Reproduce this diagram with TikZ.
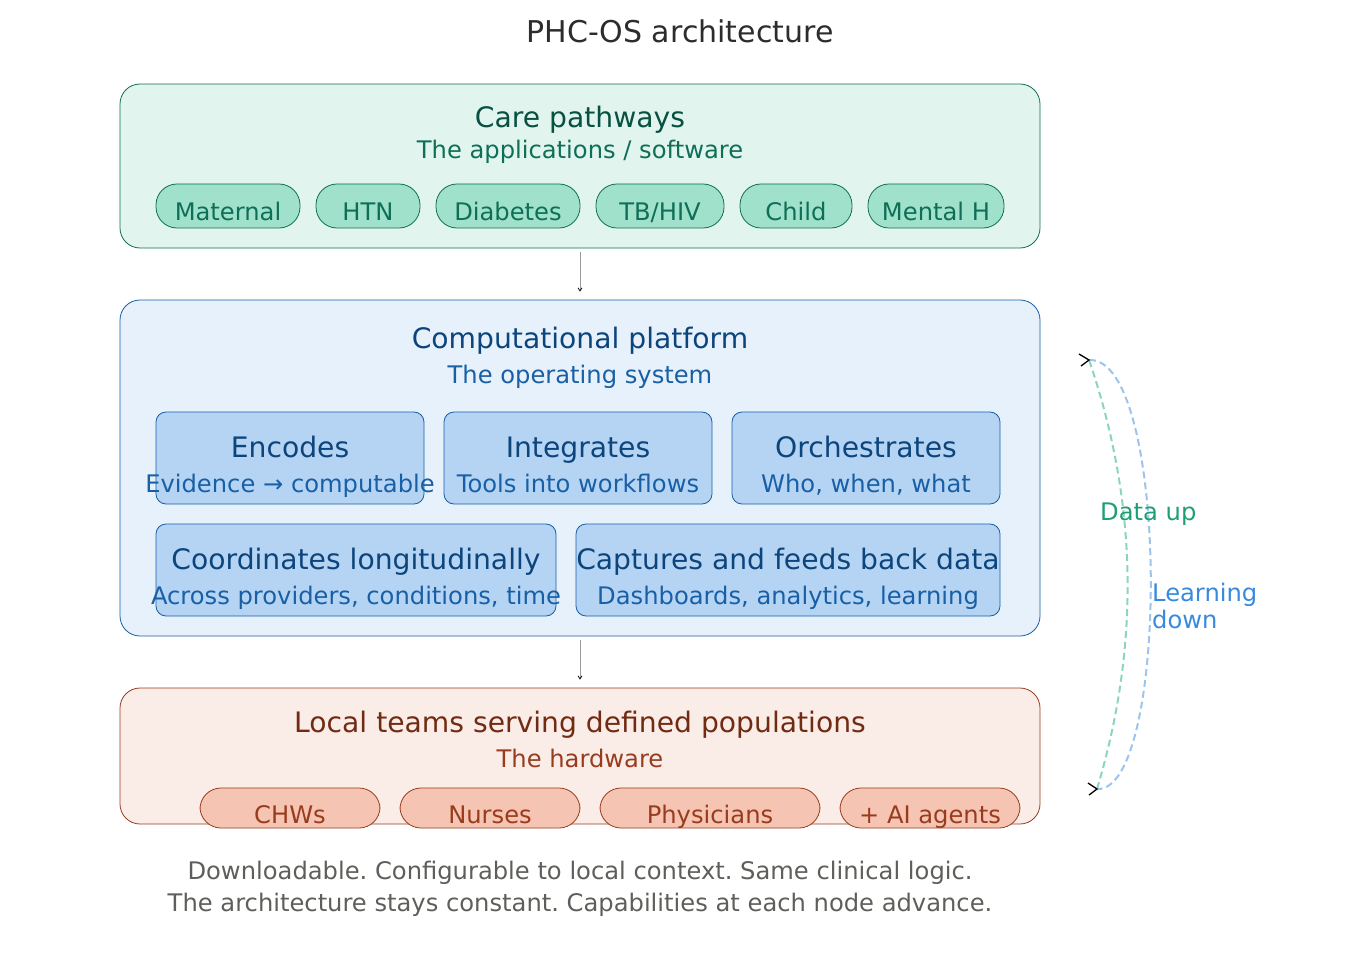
\documentclass[tikz,border=0pt]{standalone}
\usepackage{fontspec}
\setmainfont{DejaVu Sans}
\usetikzlibrary{positioning,arrows.meta}

\definecolor{tealL}{HTML}{E1F5EE}
\definecolor{tealM}{HTML}{9FE1CB}
\definecolor{tealB}{HTML}{0F6E56}
\definecolor{tealD}{HTML}{085041}
\definecolor{tealA}{HTML}{1D9E75}
\definecolor{tealDash}{HTML}{8DD5B8}
\definecolor{blueL}{HTML}{E6F1FB}
\definecolor{blueM}{HTML}{B5D4F4}
\definecolor{blueB}{HTML}{185FA5}
\definecolor{blueD}{HTML}{0C447C}
\definecolor{blueA}{HTML}{378ADD}
\definecolor{blueDash}{HTML}{9CC4EC}
\definecolor{coralL}{HTML}{FAECE7}
\definecolor{coralM}{HTML}{F5C4B3}
\definecolor{coralB}{HTML}{993C1D}
\definecolor{coralD}{HTML}{712B13}
\definecolor{inkT}{HTML}{2C2C2A}
\definecolor{inkF}{HTML}{5F5E5A}

\newcommand{\hdsize}{\fontsize{28.2}{32}\selectfont}
\newcommand{\txsize}{\fontsize{24.2}{28}\selectfont}

\begin{document}
\frenchspacing
\begin{tikzpicture}[x=1pt,y=-1pt,
  layer/.style={draw,rounded corners=20pt,line width=0.8pt,inner sep=0pt},
  card/.style={draw=blueB,fill=blueM,rounded corners=10pt,line width=0.8pt,
    minimum height=92pt,inner sep=0pt},
  pill/.style={draw,rounded corners=21pt,line width=0.8pt,inner sep=0pt,outer sep=0pt,
    minimum height=44pt,text height=29pt,text depth=0pt,font=\txsize},
  head/.style={anchor=base,font=\hdsize,inner sep=0pt},
  sub/.style={anchor=base,font=\txsize,inner sep=0pt},
  flow/.style={draw=gray!80,line width=0.8pt,-{Straight Barb[length=3pt,width=4pt,black]}},
  loopline/.style={line width=2pt,dash pattern=on 7pt off 4pt},
  tipmark/.style={black,line width=1.3pt}]

\useasboundingbox (0,0) rectangle (1360,960);

\node[anchor=base,font=\fontsize{30}{34}\selectfont,text=inkT] (title) at (680,43) {PHC-OS architecture};

% care pathways
\node[layer,draw=tealB,fill=tealL,minimum width=920pt,minimum height=164pt] (care) at (580,166) {};
\node[head,text=tealD] (careT) at (580,128) {Care pathways};
\node[sub,text=tealB] (careS) at (580,159) {The applications / software};
\node[pill,draw=tealB,fill=tealM,text=tealB,minimum width=144pt] (mat) at (228,206) {Maternal};
\node[pill,draw=tealB,fill=tealM,text=tealB,minimum width=104pt,right=16pt of mat] (htn) {HTN};
\node[pill,draw=tealB,fill=tealM,text=tealB,minimum width=144pt,right=16pt of htn] (dia) {Diabetes};
\node[pill,draw=tealB,fill=tealM,text=tealB,minimum width=128pt,right=16pt of dia] (tb) {TB/HIV};
\node[pill,draw=tealB,fill=tealM,text=tealB,minimum width=112pt,right=16pt of tb] (child) {Child};
\node[pill,draw=tealB,fill=tealM,text=tealB,minimum width=136pt,right=16pt of child] (mh) {Mental H};

% computational platform
\node[layer,draw=blueB,fill=blueL,minimum width=920pt,minimum height=336pt] (comp) at (580,468) {};
\node[head,text=blueD] (compT) at (580,348) {Computational platform};
\node[sub,text=blueB] (compS) at (580,383) {The operating system};
\node[card,minimum width=268pt] (enc) at (290,458) {};
\node[card,minimum width=268pt] (integ) at (578,458) {};
\node[card,minimum width=268pt] (orch) at (866,458) {};
\node[card,minimum width=400pt] (coord) at (356,570) {};
\node[card,minimum width=424pt] (capt) at (788,570) {};
\node[head,text=blueD] at (290,457) {Encodes};
\node[sub,text=blueB] at (290,492) {Evidence → computable};
\node[head,text=blueD] at (578,457) {Integrates};
\node[sub,text=blueB] at (578,492) {Tools into workflows};
\node[head,text=blueD] at (866,457) {Orchestrates};
\node[sub,text=blueB] at (866,492) {Who, when, what};
\node[head,text=blueD] at (356,569) {Coordinates longitudinally};
\node[sub,text=blueB] at (356,604) {Across providers, conditions, time};
\node[head,text=blueD] at (788,569) {Captures and feeds back data};
\node[sub,text=blueB] at (788,604) {Dashboards, analytics, learning};

% local teams
\node[layer,draw=coralB,fill=coralL,minimum width=920pt,minimum height=136pt] (local) at (580,756) {};
\node[head,text=coralD] (localT) at (580,732) {Local teams serving defined populations};
\node[sub,text=coralB] (localS) at (580,767) {The hardware};
\node[pill,draw=coralB,fill=coralM,text=coralB,minimum width=180pt,minimum height=40pt,text height=30pt] (chw) at (290,808) {CHWs};
\node[pill,draw=coralB,fill=coralM,text=coralB,minimum width=180pt,minimum height=40pt,text height=30pt,right=20pt of chw] (nurse) {Nurses};
\node[pill,draw=coralB,fill=coralM,text=coralB,minimum width=220pt,minimum height=40pt,text height=30pt,right=20pt of nurse] (phys) {Physicians};
\node[pill,draw=coralB,fill=coralM,text=coralB,minimum width=180pt,minimum height=40pt,text height=30pt,right=20pt of phys] (ai) {+ AI agents};

\path[flow] ([yshift=-4pt]care.south) -- ([yshift=8pt]comp.north);
\path[flow] ([yshift=-4pt]comp.south) -- ([yshift=8pt]local.north);

% feedback loop
\coordinate (topEnd) at (1089,360);
\coordinate (botEnd) at (1097,789);
\draw[loopline,tealDash] (botEnd) .. controls (1140,646) and (1138,503) .. (topEnd);
\draw[loopline,blueDash] (topEnd) .. controls (1170,356) and (1170,793) .. (botEnd);
\draw[tipmark] ([shift={(-10,-6)}]topEnd) -- (topEnd) -- ([shift={(-8,6)}]topEnd);
\draw[tipmark] ([shift={(-9,-6)}]botEnd) -- (botEnd) -- ([shift={(-8,6)}]botEnd);
\node[anchor=base west,font=\txsize,text=tealA,inner sep=0pt] (up) at (1100,520) {Data up};
\node[anchor=base west,font=\txsize,text=blueA,inner sep=0pt,align=left] (down) at (1152,628) {Learning\\[-1pt]down};

\node[anchor=base,font=\txsize,text=inkF,inner sep=0pt] (foot1) at (580,879) {Downloadable. Configurable to local context. Same clinical logic.};
\node[anchor=base,font=\txsize,text=inkF,inner sep=0pt] (foot2) at (580,911) {The architecture stays constant. Capabilities at each node advance.};
\end{tikzpicture}
\end{document}
